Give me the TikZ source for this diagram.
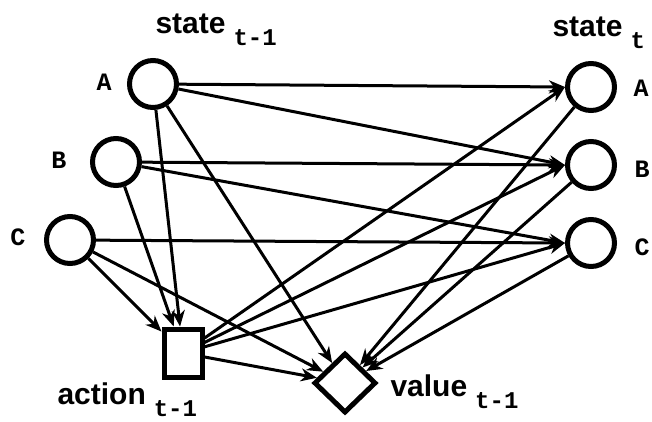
\documentclass[tikz,border=0pt]{standalone}
\usepackage{fontspec}
\setmainfont{Liberation Sans}
\setmonofont{Liberation Mono}
\usetikzlibrary{arrows.meta, shapes.geometric}

\tikzset{
  every picture/.style={x=1pt, y=-1pt, line width=3pt},
  stnode/.style={circle, draw, line width=5pt, minimum size=47pt, inner sep=0pt},
  actbox/.style={rectangle, draw, line width=5pt, minimum width=38pt, minimum height=48pt, inner sep=0pt},
  valbox/.style={diamond, draw, line width=5pt, minimum width=62pt, minimum height=60pt, inner sep=0pt},
  edge/.style={-{Stealth[length=16pt, width=13pt, inset=5pt]}, line width=3pt},
  tag/.style={font=\fontsize{25}{25}\selectfont\ttfamily\bfseries, inner sep=0pt},
  varname/.style={font=\fontsize{30}{32}\selectfont\bfseries, inner sep=0pt, anchor=base west},
}
\newcommand{\timesub}[1]{\hspace{8pt}\raisebox{-12pt}{\fontsize{24}{24}\selectfont\ttfamily\bfseries #1}}

\begin{document}
\begin{tikzpicture}
  \useasboundingbox (0,0) rectangle (652,421);
  % states at t-1
  \node[stnode] (pa) at (153,84) {};
  \node[stnode] (pb) at (116,162) {};
  \node[stnode] (pc) at (70,240) {};
  % states at t
  \node[stnode] (na) at (591,87) {};
  \node[stnode] (nb) at (591,165) {};
  \node[stnode] (nc) at (591,243) {};
  % action and value
  \node[actbox] (act) at (183,353) {};
  \node[valbox] (val) at (345,383) {};
  % letters
  \node[tag] (tpa) at (104,82) {A};
  \node[tag] (tpb) at (59,160) {B};
  \node[tag] (tpc) at (18,237) {C};
  \node[tag] (tna) at (641,88) {A};
  \node[tag] (tnb) at (642,169) {B};
  \node[tag] (tnc) at (642,247) {C};
  % names
  \node[varname] (sprev) at (154,33) {state\timesub{t-1}};
  \node[varname] (snext) at (551,36) {state\timesub{t}};
  \node[varname] (aname) at (56,404) {action\timesub{t-1}};
  \node[varname] (vname) at (389,396) {value\timesub{t-1}};
  % transitions
  \foreach \s/\t in {pa/na.west, pa/nb.west, pb/nb.west, pb/nc.west, pc/nc.west,
                     act/na.west, act/nb.west, act/nc.west}
    \draw[edge] (\s) -- (\t);
  % into the action
  \foreach \s in {pa, pb, pc}
    \draw[edge] (\s) -- (act);
  % into the value
  \foreach \s in {pa, pc, act, na, nb, nc}
    \draw[edge] (\s) -- (val);
\end{tikzpicture}
\end{document}
